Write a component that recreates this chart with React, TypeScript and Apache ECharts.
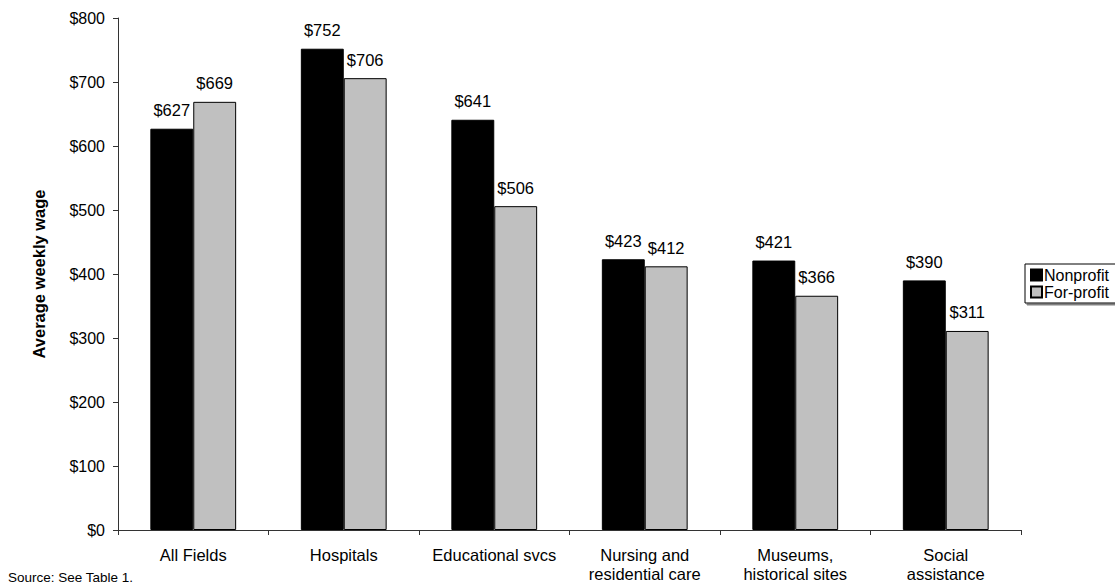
import React, { useEffect, useRef } from "react";
import * as echarts from "echarts";

const categories = [
  "All Fields",
  "Hospitals",
  "Educational svcs",
  "Nursing and\nresidential care",
  "Museums,\nhistorical sites",
  "Social\nassistance",
];
const nonprofit = [627, 752, 641, 423, 421, 390];
const forprofit = [669, 706, 506, 412, 366, 311];
const seriesNames = ["Nonprofit", "For-profit"];

const FONT = "'Liberation Sans', Arial, sans-serif";

export default function App() {
  const ref = useRef<HTMLDivElement>(null);
  useEffect(() => {
    if (!ref.current) return;
    const chart = echarts.init(ref.current, null, { renderer: "svg" });
    const label = {
      show: true,
      position: "top",
      distance: 10,
      color: "#000",
      fontSize: 16.5,
      fontFamily: FONT,
      formatter: (p: any) => "$" + p.value,
    };
    chart.setOption({
      animation: false,
      textStyle: { fontFamily: FONT },
      grid: { left: 118, right: 94, top: 18, bottom: 54, containLabel: false },
      legend: {
        data: seriesNames,
        orient: "vertical",
        left: 1025,
        top: 264,
        itemWidth: 11,
        itemHeight: 11,
        itemGap: 1,
        padding: [3, 20, 3, 5],
        borderColor: "#000",
        borderWidth: 1,
        backgroundColor: "#fff",
        shadowColor: "#808080",
        shadowOffsetX: 2,
        shadowOffsetY: 2,
        shadowBlur: 0,
        icon: "rect",
        textStyle: { fontSize: 16, color: "#000", fontFamily: FONT, padding: [0, 0, 0, -3] },
      },
      xAxis: {
        type: "category",
        data: categories,
        axisLine: { lineStyle: { color: "#333", width: 1 } },
        axisTick: { show: true, length: 5, lineStyle: { color: "#333" } },
        axisLabel: {
          color: "#000",
          fontSize: 16.5,
          fontFamily: FONT,
          margin: 15,
          lineHeight: 19,
          interval: 0,
        },
      },
      yAxis: {
        type: "value",
        min: 0,
        max: 800,
        interval: 100,
        name: "Average weekly wage",
        nameLocation: "middle",
        nameGap: 71,
        nameTextStyle: { fontWeight: "bold", fontSize: 16.5, color: "#000", fontFamily: FONT },
        splitLine: { show: false },
        axisLine: { show: true, lineStyle: { color: "#333", width: 1 } },
        axisTick: { show: true, length: 5, lineStyle: { color: "#333" } },
        axisLabel: {
          color: "#000",
          fontSize: 16,
          fontFamily: FONT,
          margin: 13,
          formatter: (v: number) => "$" + v,
        },
      },
      series: [
        {
          name: seriesNames[0],
          type: "bar",
          data: nonprofit,
          barGap: "0%",
          barCategoryGap: "43%",
          itemStyle: { color: "#000", borderColor: "#000", borderWidth: 1 },
          label,
        },
        {
          name: seriesNames[1],
          type: "bar",
          data: forprofit,
          itemStyle: { color: "#c0c0c0", borderColor: "#000", borderWidth: 1 },
          label,
        },
      ],
      graphic: [
        {
          type: "text",
          left: 8,
          top: 570,
          style: { text: "Source: See Table 1.", fontSize: 13.5, fill: "#000", fontFamily: FONT },
        },
      ],
    });
    return () => chart.dispose();
  }, []);
  return <div ref={ref} style={{ width: 1115, height: 584, position: "absolute", left: 0, top: 0 }} />;
}
